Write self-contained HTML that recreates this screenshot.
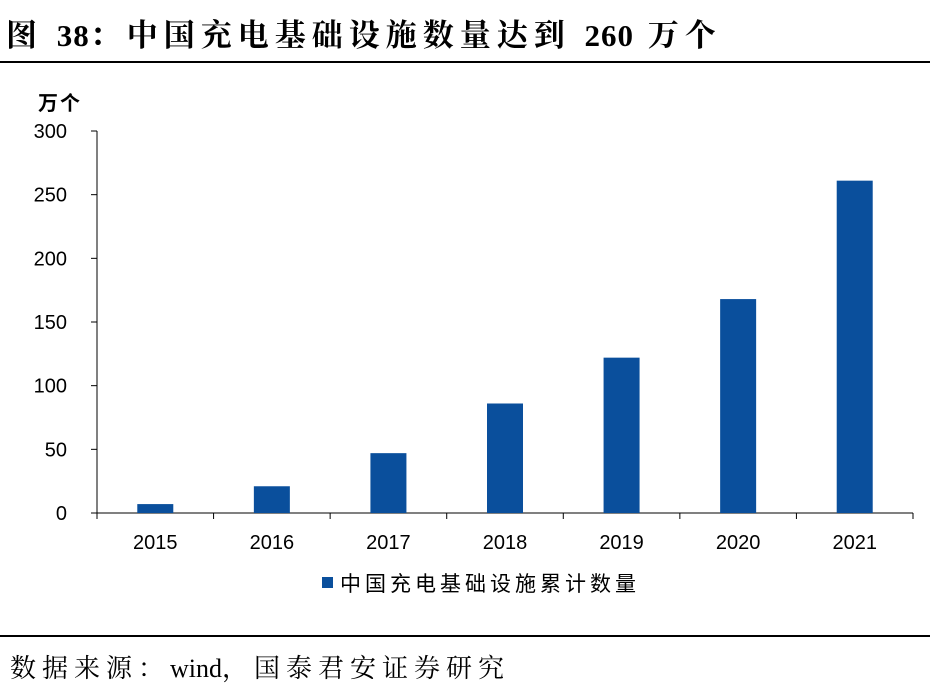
<!DOCTYPE html>
<html><head><meta charset="utf-8"><style>
body{margin:0;width:930px;height:694px;background:#fff;overflow:hidden;position:relative;font-family:"Liberation Sans","Noto Sans CJK SC",sans-serif}
.title{position:absolute;left:6px;top:10px;font:bold 31px "Liberation Serif","Noto Serif CJK SC",serif;color:#000;letter-spacing:6px;white-space:nowrap}
.title .l{letter-spacing:1px}
.hr{position:absolute;left:0;width:930px;height:2px;background:#000}
.src{position:absolute;left:10px;top:648px;font:26px "Liberation Serif","Noto Serif CJK SC",serif;color:#000;letter-spacing:6px;white-space:nowrap}
.src .l{letter-spacing:0}
</style></head><body>
<div class="title">图 <span class="l">38</span>：中国充电基础设施数量达到 <span class="l">260</span> 万个</div>
<div class="hr" style="top:61px"></div>
<svg id="chart" width="930" height="694" style="position:absolute;left:0;top:0"></svg>
<div class="hr" style="top:635px;height:1.5px"></div>
<div class="src">数据来源：<span class="l">wind</span>，国泰君安证券研究</div>
<script>
const categories=["2015","2016","2017","2018","2019","2020","2021"];
const values=[7,21,47,86,122,168,261];
const yTicks=[0,50,100,150,200,250,300];
const NS="http://www.w3.org/2000/svg";
const svg=document.getElementById('chart');
const x0=97,x1=913,y0=513,y1=131,ymax=300;
const bw=(x1-x0)/categories.length;
const y=v=>y0-(v/ymax)*(y0-y1);
const xc=i=>x0+bw*(i+0.5);
function mk(t,a){const e=document.createElementNS(NS,t);for(const k in a)e.setAttribute(k,a[k]);svg.appendChild(e);return e;}
let u=mk('text',{x:38,y:110,'font-size':20,'font-weight':'bold',fill:'#000','letter-spacing':2});u.textContent='万个';


let ax=mk('line',{x1:x0,y1:y1,x2:x0,y2:y0,stroke:'#000','stroke-width':1});


yTicks.forEach(t=>{
 let l=mk('line',{x1:x0-6,y1:y(t),x2:x0,y2:y(t),stroke:'#000'});
 
 
 let tx=mk('text',{x:x0-30,y:y(t)+7,'font-size':20,'text-anchor':'end',fill:'#000'});tx.textContent=t;
 
 
});
let xa=mk('line',{x1:x0,y1:y0,x2:x1,y2:y0,stroke:'#000'});


for(let i=0;i<=categories.length;i++){
 let l=mk('line',{x1:x0+bw*i,y1:y0,x2:x0+bw*i,y2:y0+6,stroke:'#000'});
 
 
}
categories.forEach((c,i)=>{
 let r=mk('rect',{x:xc(i)-18,y:y(values[i]),width:36,height:y0-y(values[i]),fill:'#0a4f9c'});
 
 
 let tx=mk('text',{x:xc(i),y:549,'font-size':20,'text-anchor':'middle',fill:'#000'});tx.textContent=c;
 
 
});
let lg=mk('rect',{x:322,y:577,width:11,height:11,fill:'#0a4f9c'});


let lt=mk('text',{x:340,y:591,'font-size':21,fill:'#000','letter-spacing':4});lt.textContent='中国充电基础设施累计数量';


</script>
</body></html>
